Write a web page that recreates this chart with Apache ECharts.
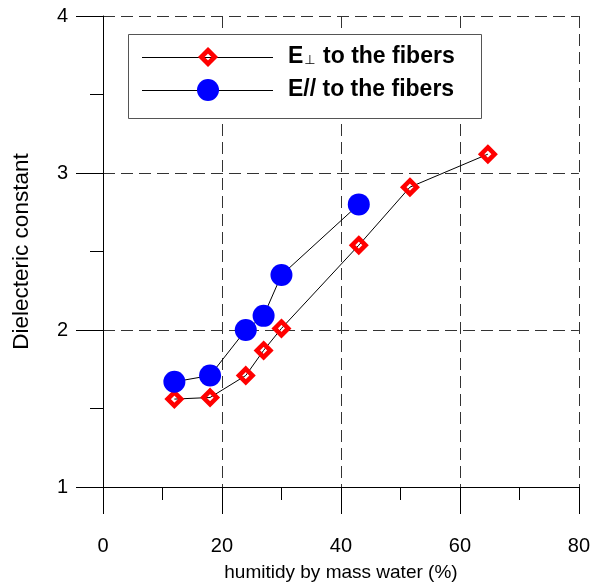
<!DOCTYPE html>
<html>
<head>
<meta charset="utf-8">
<script src="https://cdn.jsdelivr.net/npm/echarts@6/dist/echarts.min.js"></script>
<style>
  html, body { margin: 0; padding: 0; background: #fff; }
  #chart { width: 593px; height: 587px; }
</style>
</head>
<body>
<div id="chart"></div>
<script>
// Humidity (% by mass water) and dielectric constant measurements
const perpHumidity = [12, 18, 24, 27, 30, 43, 51.6, 64.7];
const perpValues   = [1.56, 1.57, 1.71, 1.87, 2.01, 2.54, 2.91, 3.12];

const paraHumidity = [12, 18, 24, 27, 30, 43];
const paraValues   = [1.67, 1.71, 2.0, 2.09, 2.35, 2.80];

const seriesNames = ['E\u22a5 to the fibers', 'E// to the fibers'];
const xTitle = 'humitidy by mass water (%)';
const yTitle = 'Dielecteric constant';

const pairs = (xs, ys) => xs.map((x, i) => [x, ys[i]]);

const font = 'Arial, "Liberation Sans", sans-serif';
const gridLine = { show: true, lineStyle: { color: '#333', type: [12, 6], width: 1 } };

const RED = '#ff0000';
const BLUE = '#0000ff';
const DIAMOND = 13.5;   // diamond marker size
const DIAMOND_BORDER = 4.6;
const CIRCLE = 22;      // circle marker size

// Legend box drawn as graphic elements: frame, line samples, markers, labels
function legendGraphic() {
  const box = { x: 128, y: 34, w: 353, h: 84 };
  const rows = [57, 90];
  const lineX0 = 142, lineX1 = 273, markX = 208, textX = 288;
  const els = [{
    type: 'rect', silent: true, z: 50,
    shape: { x: box.x + 0.5, y: box.y + 0.5, width: box.w, height: box.h },
    style: { fill: '#fff', stroke: '#555', lineWidth: 1 }
  }];
  rows.forEach((y) => {
    els.push({
      type: 'line', silent: true, z: 51,
      shape: { x1: lineX0, y1: y + 0.5, x2: lineX1, y2: y + 0.5 },
      style: { stroke: '#000', lineWidth: 1 }
    });
  });
  const h = DIAMOND / 2;
  els.push({
    type: 'polygon', silent: true, z: 52,
    shape: { points: [[markX, rows[0] - h], [markX + h, rows[0]], [markX, rows[0] + h], [markX - h, rows[0]]] },
    style: { fill: 'none', stroke: RED, lineWidth: DIAMOND_BORDER }
  });
  els.push({
    type: 'circle', silent: true, z: 52,
    shape: { cx: markX, cy: rows[1], r: CIRCLE / 2 },
    style: { fill: BLUE }
  });
  const parts = [
    '{b|E}{p|\u22a5}{b| to the fibers}',
    '{b|' + seriesNames[1] + '}'
  ];
  parts.forEach((t, i) => {
    els.push({
      type: 'text', silent: true, z: 52,
      x: textX, y: rows[i],
      style: {
        text: t,
        verticalAlign: 'middle',
        align: 'left',
        rich: {
          b: { fontFamily: font, fontSize: 23, fontWeight: 'bold', fill: '#000' },
          p: { fontFamily: '"DejaVu Sans", sans-serif', fontSize: 13, fill: '#000', padding: [7, 1, 0, 1] }
        }
      }
    });
  });
  return els;
}

const chart = echarts.init(document.getElementById('chart'), null, { renderer: 'canvas' });
chart.setOption({
  animation: false,
  backgroundColor: '#fff',
  grid: { left: 103, right: 14, top: 16, bottom: 95 },
  legend: { show: false, data: seriesNames },
  xAxis: {
    type: 'value',
    min: 0, max: 80, interval: 20,
    name: xTitle,
    nameLocation: 'middle',
    nameGap: 76,
    nameTextStyle: { fontFamily: font, fontSize: 19, color: '#000' },
    axisLine: { show: true, onZero: false, lineStyle: { color: '#000', width: 1 } },
    axisTick: { show: true, length: 27, lineStyle: { color: '#000' } },
    minorTick: { show: true, splitNumber: 2, length: 13, lineStyle: { color: '#000' } },
    axisLabel: { fontFamily: font, fontSize: 20, color: '#000', margin: 49 },
    splitLine: gridLine
  },
  yAxis: {
    type: 'value',
    min: 1, max: 4, interval: 1,
    name: yTitle,
    nameLocation: 'middle',
    nameGap: 70,
    nameTextStyle: { fontFamily: font, fontSize: 22.5, color: '#000' },
    axisLine: { show: true, onZero: false, lineStyle: { color: '#000', width: 1 } },
    axisTick: { show: true, length: 27, lineStyle: { color: '#000' } },
    minorTick: { show: true, splitNumber: 2, length: 13, lineStyle: { color: '#000' } },
    axisLabel: { fontFamily: font, fontSize: 20, color: '#000', margin: 35 },
    splitLine: gridLine
  },
  graphic: legendGraphic(),
  series: [
    {
      name: seriesNames[0],
      type: 'line',
      data: pairs(perpHumidity, perpValues),
      symbol: 'diamond',
      symbolSize: DIAMOND,
      showAllSymbol: true,
      lineStyle: { color: '#000', width: 1 },
      itemStyle: { color: 'rgba(255,255,255,0)', borderColor: RED, borderWidth: DIAMOND_BORDER },
      z: 3
    },
    {
      name: seriesNames[1],
      type: 'line',
      data: pairs(paraHumidity, paraValues),
      symbol: 'circle',
      symbolSize: CIRCLE,
      showAllSymbol: true,
      lineStyle: { color: '#000', width: 1 },
      itemStyle: { color: BLUE, borderWidth: 0 },
      z: 4
    }
  ]
});
</script>
</body>
</html>
